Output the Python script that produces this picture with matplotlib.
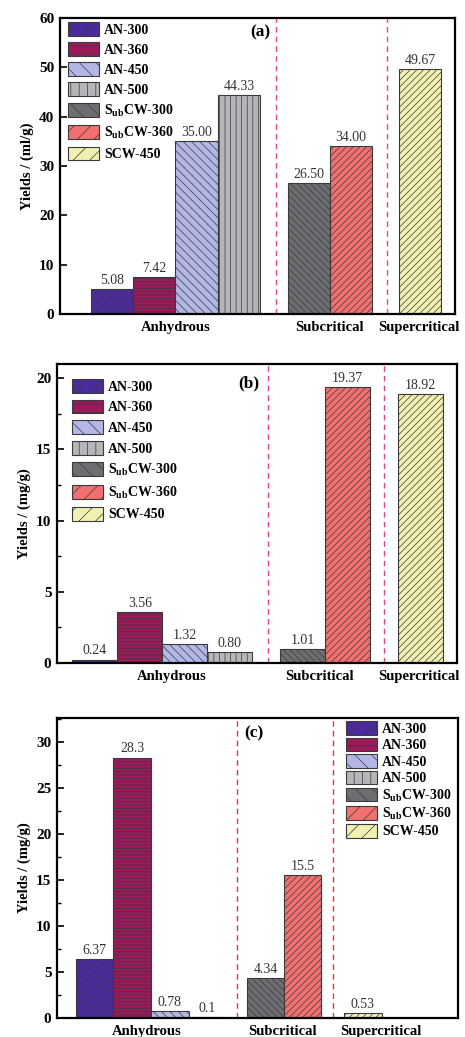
import matplotlib
matplotlib.use("Agg")
import matplotlib.pyplot as plt
from matplotlib.patches import Patch
from matplotlib.ticker import MultipleLocator

plt.rcParams['font.family'] = ['Liberation Serif', 'DejaVu Serif']
plt.rcParams['mathtext.fontset'] = 'custom'
plt.rcParams['mathtext.rm'] = 'Liberation Serif'
plt.rcParams['mathtext.bf'] = 'Liberation Serif:bold'
plt.rcParams['hatch.linewidth'] = 0.5
plt.rcParams['hatch.color'] = '#333333'

# series
names = ['AN-300', 'AN-360', 'AN-450', 'AN-500',
         'S$_{\\mathbf{ub}}$CW-300', 'S$_{\\mathbf{ub}}$CW-360', 'SCW-450']
colors = ['#4b2a9c', '#9c1a5c', '#b3b7e8', '#b6b6ba', '#6e6e72', '#f27070', '#f2f0b0']
hatches = ['////', '-----', '\\\\\\\\', '|||', '\\\\\\\\\\', '/////', '/////']
leg_hatches = ['//', '--', '\\\\', '||', '\\\\', '//', '//']
groups = ['Anhydrous', 'Subcritical', 'Supercritical']

# panel (a) gas yields, ml/g
vals_a = [5.08, 7.42, 35.00, 44.33, 26.50, 34.00, 49.67]
text_a = ['5.08', '7.42', '35.00', '44.33', '26.50', '34.00', '49.67']
# panel (b)
vals_b = [0.24, 3.56, 1.32, 0.80, 1.01, 19.37, 18.92]
text_b = ['0.24', '3.56', '1.32', '0.80', '1.01', '19.37', '18.92']
# panel (c)
vals_c = [6.37, 28.3, 0.78, 0.1, 4.34, 15.5, 0.53]
text_c = ['6.37', '28.3', '0.78', '0.1', '4.34', '15.5', '0.53']

W, H = 465, 1037
fig = plt.figure(figsize=(W / 100, H / 100), dpi=100)


def box(l, r, t, b):
    return [l / W, 1 - b / H, (r - l) / W, (b - t) / H]


panels = [
    dict(rect=box(60, 455, 18, 314), vals=vals_a, text=text_a,
         pos=[1.23, 2.23, 3.23, 4.23, 5.88, 6.88, 8.52], xlim=9.34,
         dash=[5.1, 7.73], dcol='#e4448a', lab=[2.74, 6.38, 8.49],
         ylim=60, major=10, minor=None, ylab='Yields / (ml/g)',
         tag='(a)', tagxy=(0.506, 0.95),
         leg=dict(loc='upper left', bbox_to_anchor=(8 / 395, 1 - 4 / 296), labelspacing=0.40)),
    dict(rect=box(57, 457, 364, 663), vals=vals_b, text=text_b,
         pos=[0.84, 1.84, 2.84, 3.84, 5.46, 6.46, 8.07], xlim=8.89,
         dash=[4.68, 7.27], dcol='#e4448a', lab=[2.56, 5.84, 8.04],
         ylim=21, major=5, minor=2.5, ylab='Yields / (mg/g)',
         tag='(b)', tagxy=(0.48, 0.936),
         leg=dict(loc='upper left', bbox_to_anchor=(15 / 400, 1 - 15 / 299), labelspacing=0.44)),
    dict(rect=box(57, 458, 718, 1018), vals=vals_c, text=text_c,
         pos=[1.0, 2.0, 3.0, 4.0, 5.54, 6.53, 8.13], xlim=10.66,
         dash=[4.78, 7.33], dcol='#e03838', lab=[2.39, 6.0, 8.6],
         ylim=32.6, major=5, minor=2.5, ylab='Yields / (mg/g)',
         tag='(c)', tagxy=(0.49, 0.95),
         leg=dict(loc='upper right', bbox_to_anchor=(1 - 6 / 401, 1 - 3 / 300), labelspacing=0.14)),
]

for p in panels:
    ax = fig.add_axes(p['rect'])
    bars = ax.bar(p['pos'], p['vals'], width=1.0, color=colors,
                  edgecolor='#3a3a3a', linewidth=0.8)
    for b, h in zip(bars, hatches):
        b.set_hatch(h)
    for x, v, t in zip(p['pos'], p['vals'], p['text']):
        ax.annotate(t, (x, v), xytext=(0, 1.5), textcoords='offset points',
                    ha='center', va='bottom', fontsize=10, color='#333333')
    for d in p['dash']:
        ax.axvline(d, color=p['dcol'], linestyle=(0, (4, 3)), linewidth=1.0)
    ax.set_xlim(0, p['xlim'])
    ax.set_ylim(0, p['ylim'])
    ax.set_xticks(p['lab'])
    ax.set_xticklabels(groups, fontsize=10.5, fontweight='bold')
    ax.tick_params(axis='x', length=0, pad=5)
    ax.yaxis.set_major_locator(MultipleLocator(p['major']))
    if p['minor']:
        ax.yaxis.set_minor_locator(MultipleLocator(p['minor']))
    ax.tick_params(axis='y', which='major', direction='in', length=5, width=1.2, labelsize=11, pad=4)
    ax.tick_params(axis='y', which='minor', direction='in', length=3, width=1.0)
    for lbl in ax.get_yticklabels():
        lbl.set_fontweight('bold')
    ax.set_ylabel(p['ylab'], fontsize=10.5, fontweight='bold', labelpad=4)
    for s in ax.spines.values():
        s.set_linewidth(1.6)
    ax.text(p['tagxy'][0], p['tagxy'][1], p['tag'], transform=ax.transAxes,
            ha='center', va='center', fontsize=12.5, fontweight='bold')
    handles = [Patch(facecolor=c, edgecolor='#3a3a3a', hatch=h, linewidth=0.8)
               for c, h in zip(colors, leg_hatches)]
    ax.legend(handles, names, frameon=False, borderaxespad=0, borderpad=0,
              handlelength=2.2, handleheight=1.15, handletextpad=0.4,
              prop=dict(weight='bold', size=10), **p['leg'])

fig.savefig('out.png', dpi=100)
